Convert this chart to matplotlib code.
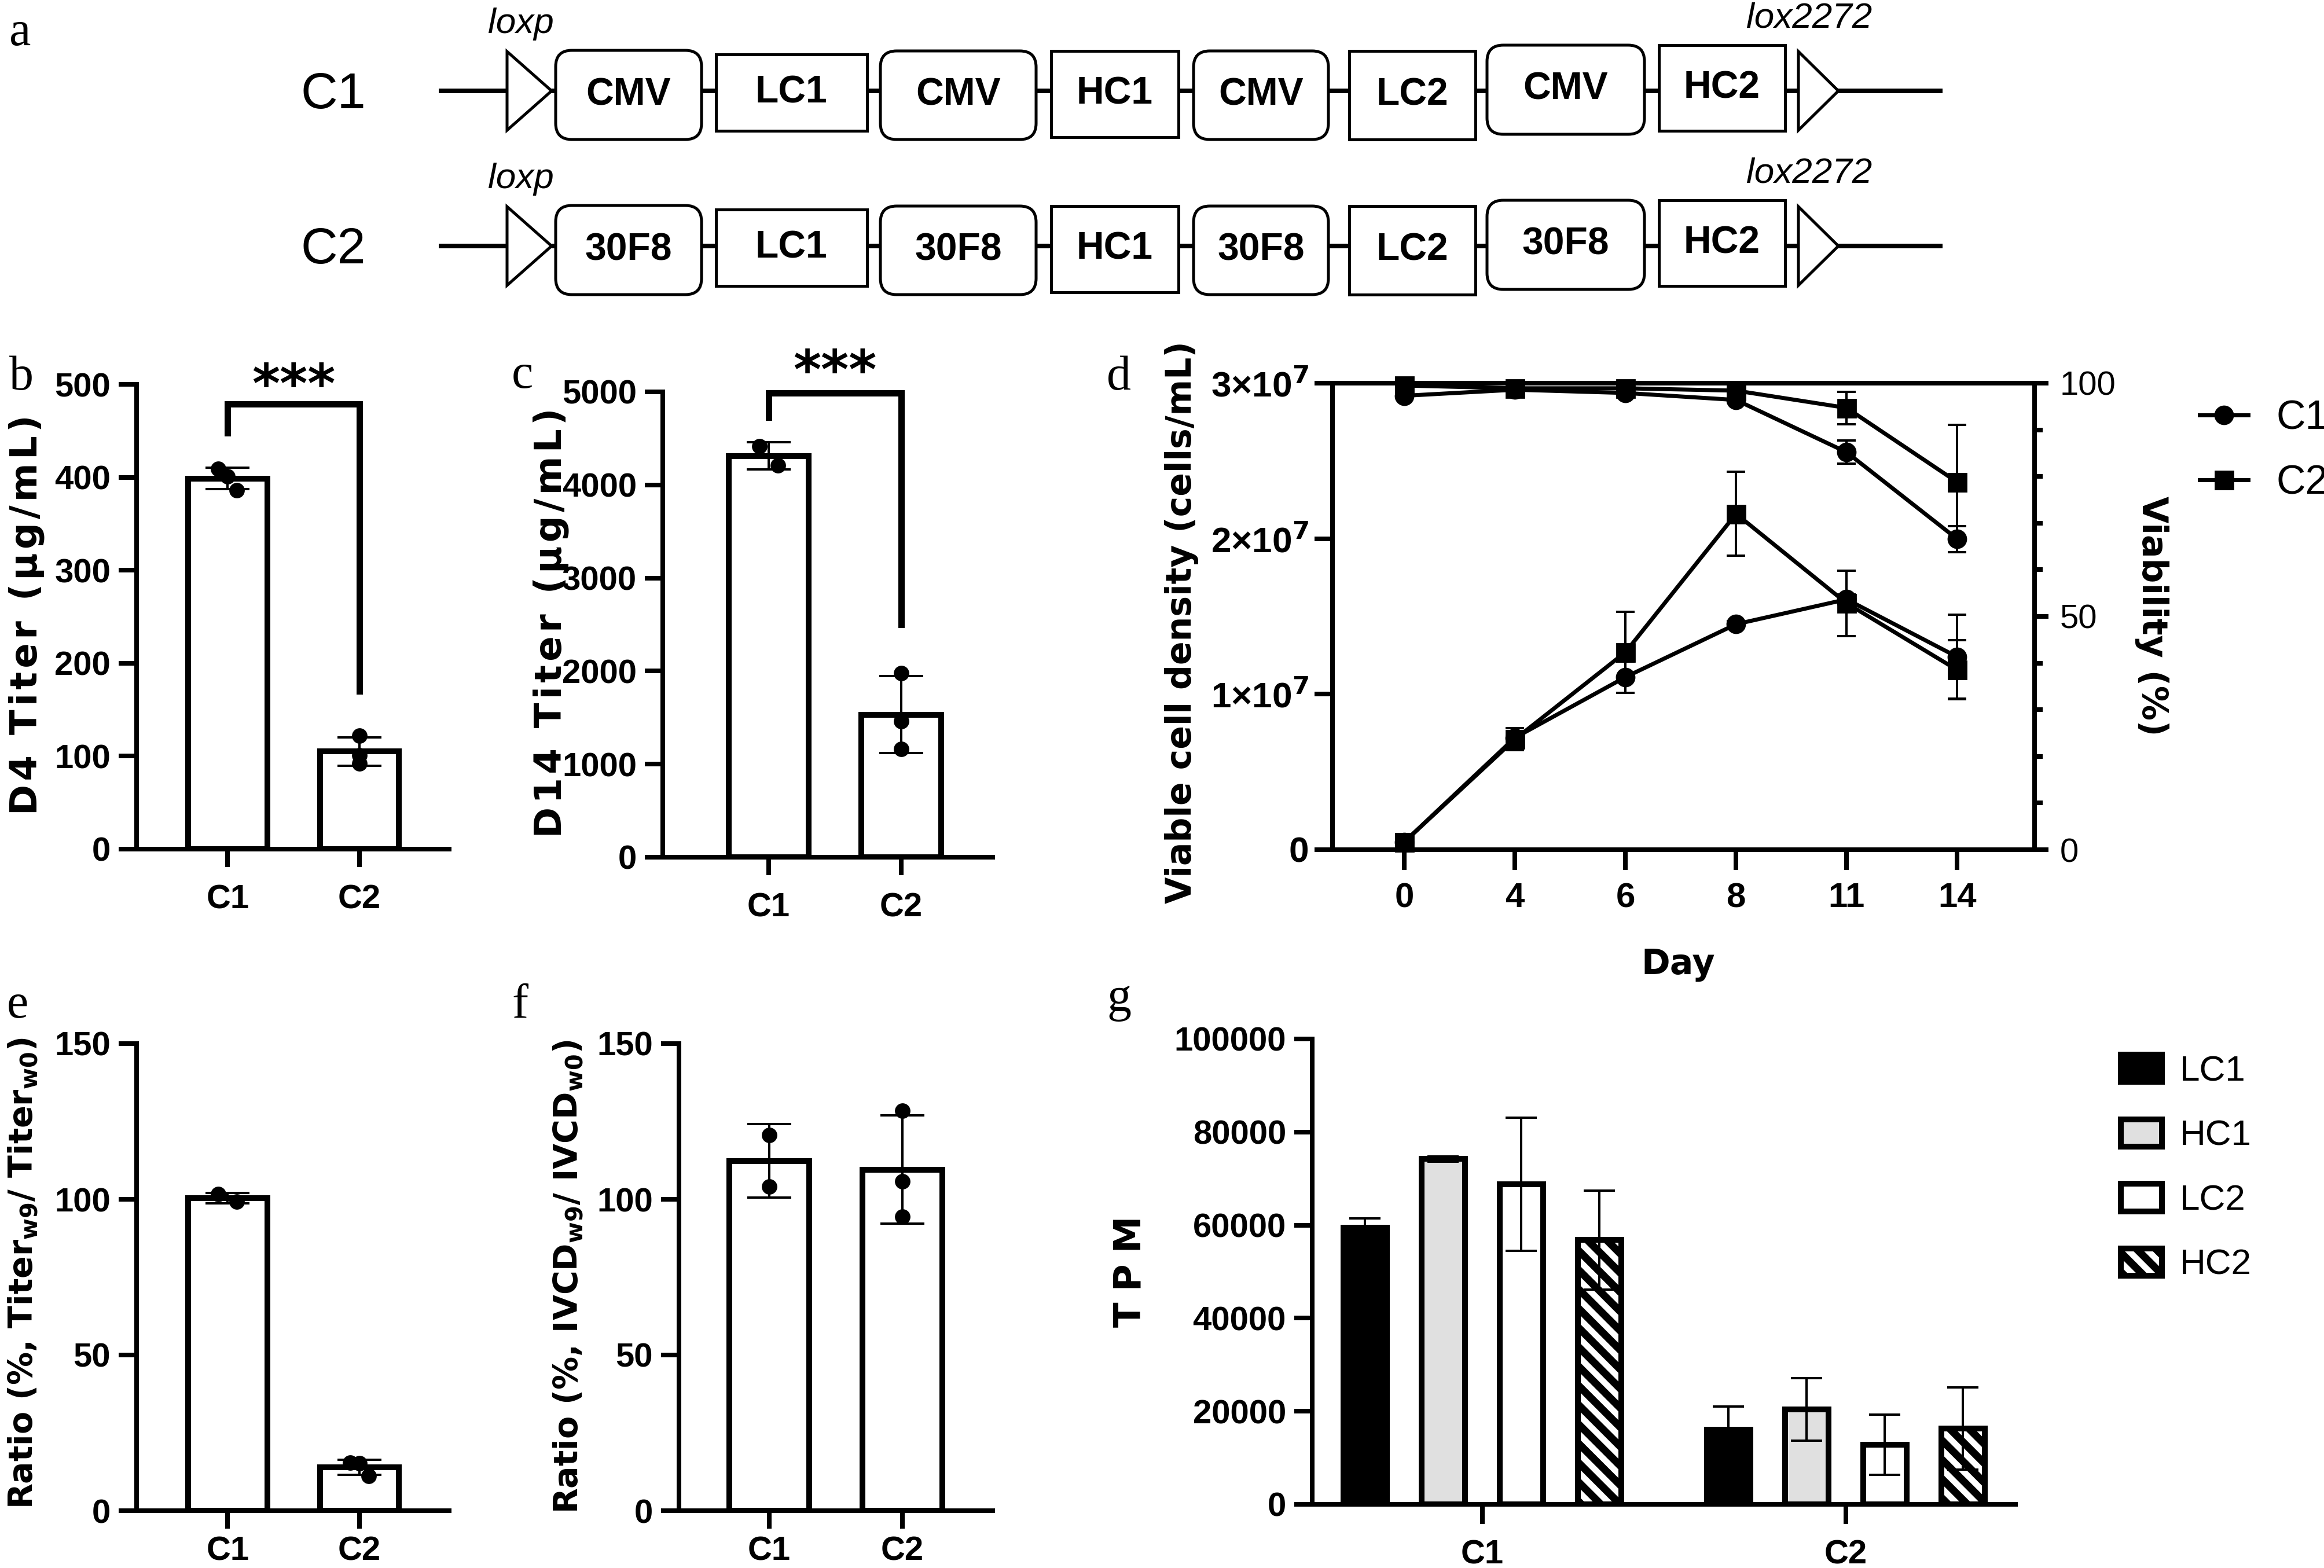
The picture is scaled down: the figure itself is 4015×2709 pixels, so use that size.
import numpy as np
import matplotlib
matplotlib.use("Agg")
import matplotlib.pyplot as plt
from matplotlib.patches import FancyBboxPatch, Rectangle, Polygon, Patch
from matplotlib.lines import Line2D
from matplotlib.ticker import MultipleLocator

W, H, DPI = 4016, 2709, 200


def pt(px):
    # pixel size -> points at this dpi
    return px * 72 / DPI


# ---------------- data ----------------
groups = ["C1", "C2"]

# replicate values per clone
d4_titer = [[409, 401, 386], [122, 101, 92]]
d14_titer = [[4417, 4208], [1975, 1460, 1160]]
ratio_titer = [[101.6, 99.2], [15.5, 15.3, 11.2]]
ratio_ivcd = [[120.7, 104.0], [128.5, 105.8, 94.4]]

days = ["0", "4", "6", "8", "11", "14"]
vcd_c1 = [0.05e7, 0.72e7, 1.11e7, 1.45e7, 1.61e7, 1.24e7]
vcd_c1_sd = [0.01e7, 0.06e7, 0.10e7, 0.02e7, 0.03e7, 0.27e7]
vcd_c2 = [0.05e7, 0.71e7, 1.27e7, 2.16e7, 1.585e7, 1.156e7]
vcd_c2_sd = [0.01e7, 0.07e7, 0.26e7, 0.27e7, 0.21e7, 0.19e7]
viab_c1 = [97.3, 98.6, 97.9, 96.4, 85.2, 66.6]
viab_c1_sd = [0.5, 0.5, 0.5, 0.5, 2.5, 2.8]
viab_c2 = [99.5, 98.9, 98.9, 98.4, 94.7, 78.8]
viab_c2_sd = [0.3, 0.4, 0.4, 0.5, 3.5, 12.3]

genes = ["LC1", "HC1", "LC2", "HC2"]
tpm_c1 = [59400, 74200, 68800, 56800]
tpm_c1_sd = [2000, 600, 14300, 10600]
tpm_c2 = [16000, 20400, 12800, 16300]
tpm_c2_sd = [5000, 6700, 6500, 8800]

promoters_c1 = ["CMV", "CMV", "CMV", "CMV"]
promoters_c2 = ["30F8", "30F8", "30F8", "30F8"]

# significance brackets (y of left leg end, top, right leg end)
sig_d4 = [448, 479, 170]
sig_d14 = [4727, 4990, 2500]

# ---------------- style ----------------
plt.rcParams["font.family"] = ["Liberation Sans", "DejaVu Sans"]
plt.rcParams["font.weight"] = "bold"
plt.rcParams["mathtext.fontset"] = "dejavusans"
plt.rcParams["mathtext.default"] = "bf"
plt.rcParams["hatch.linewidth"] = pt(13)

SPINE = pt(8)
BAR_EDGE = pt(10)
LABEL_FONT = dict(family="DejaVu Sans", weight="bold", size=pt(60))
THIN = "\u2009"
HAIR = "\u200a"

fig = plt.figure(figsize=(W / DPI, H / DPI), dpi=DPI)


def px_axes(x0, y_top, x1, y_bot):
    return fig.add_axes([x0 / W, 1 - y_bot / H, (x1 - x0) / W, (y_bot - y_top) / H])


def ftext(x, y, s, **kw):
    return fig.text(x / W, 1 - y / H, s, **kw)


def style_axes(ax, xpad):
    ax.spines[["top", "right"]].set_visible(False)
    for s in ["left", "bottom"]:
        ax.spines[s].set_linewidth(SPINE)
    ax.tick_params(width=SPINE, length=pt(31), labelsize=pt(58), colors="black")
    ax.tick_params(axis="y", pad=pt(14))
    ax.tick_params(axis="x", pad=pt(xpad))


def spread(vals, ymax):
    n = len(vals)
    if n > 1 and (max(vals) - min(vals)) < 0.05 * ymax:
        return np.linspace(-0.07, 0.07, n)
    return np.zeros(n)


def bar_panel(rect, reps, ymax, ystep, xlim, xpad):
    ax = px_axes(*rect)
    x = np.arange(len(groups))
    means = [np.mean(r) for r in reps]
    sds = [np.std(r, ddof=1) for r in reps]
    ax.bar(x, means, width=0.6, color="white", edgecolor="black",
           linewidth=BAR_EDGE, zorder=2)
    ax.errorbar(x, means, yerr=sds, fmt="none", ecolor="black",
                elinewidth=pt(4), capsize=pt(38), capthick=pt(4), zorder=3)
    for xi, r in zip(x, reps):
        ax.plot(xi + spread(r, ymax), r, "o", color="black", ms=pt(24),
                zorder=4, clip_on=False)
    ax.set_xlim(*xlim)
    ax.set_ylim(0, ymax)
    ax.set_yticks(np.arange(0, ymax + 1, ystep))
    ax.set_xticks(x, groups)
    style_axes(ax, xpad)
    return ax


# ---------------- panel a: construct diagram ----------------
ax_a = fig.add_axes([0, 0, 1, 1], zorder=0)
ax_a.set_xlim(0, W)
ax_a.set_ylim(H, 0)
ax_a.axis("off")

box_x = [(960, 1212), (1237, 1498), (1521, 1790), (1816, 2036),
         (2062, 2295), (2331, 2549), (2569, 2841), (2866, 3084)]
box_dy = [(-70, 84), (-63, 69), (-69, 84), (-69, 80),
          (-69, 84), (-69, 84), (-79, 75), (-79, 69)]
rows = [("C1", 157, promoters_c1), ("C2", 425, promoters_c2)]

for name, ry, proms in rows:
    ax_a.plot([758, 3356], [ry, ry], color="black", lw=pt(8),
              solid_capstyle="butt", zorder=1)
    parts = [p for pair in zip(proms, genes) for p in pair]
    for i, (lab, (x0, x1), (dt, db)) in enumerate(zip(parts, box_x, box_dy)):
        if i % 2 == 0:
            patch = FancyBboxPatch((x0, ry + dt), x1 - x0, db - dt,
                                   boxstyle="round,pad=0,rounding_size=28",
                                   fc="white", ec="black", lw=pt(5), zorder=2)
        else:
            patch = Rectangle((x0, ry + dt), x1 - x0, db - dt,
                              fc="white", ec="black", lw=pt(5), zorder=2)
        ax_a.add_patch(patch)
        ax_a.text((x0 + x1) / 2, ry + (dt + db) / 2, lab, ha="center",
                  va="center", fontsize=pt(66), weight="bold", zorder=3)
    for tx0, tx1 in [(876, 953), (3107, 3176)]:
        ax_a.add_patch(Polygon([(tx0, ry - 68), (tx1, ry), (tx0, ry + 68)],
                               closed=True, fc="white", ec="black",
                               lw=pt(5), zorder=2))
    ax_a.text(576, ry + 8, name, ha="center", va="center",
              fontsize=pt(88), weight="normal")
    ax_a.text(843, ry - 100, "loxp", ha="left", va="baseline",
              fontsize=pt(62), style="italic", weight="normal")
    ax_a.text(3017, ry - 109, "lox2272", ha="left", va="baseline",
              fontsize=pt(62), style="italic", weight="normal")

# ---------------- panels b, c ----------------
star_kw = dict(ha="center", va="center", family="DejaVu Sans", weight="bold",
               fontsize=pt(92), clip_on=False)

ax_b = bar_panel((236, 664, 776, 1467), d4_titer, 500, 100, (-0.69, 1.68), 30)
ax_b.plot([0, 0, 1, 1], [sig_d4[0], sig_d4[1], sig_d4[1], sig_d4[2]],
          color="black", lw=pt(11), clip_on=False, solid_joinstyle="miter")
ax_b.text(0.5, 497, "***", **star_kw)

ax_c = bar_panel((1145, 677, 1715, 1481), d14_titer, 5000, 1000, (-0.80, 1.69), 30)
ax_c.plot([0, 0, 1, 1], [sig_d14[0], sig_d14[1], sig_d14[1], sig_d14[2]],
          color="black", lw=pt(11), clip_on=False, solid_joinstyle="miter")
ax_c.text(0.5, 5200, "***", **star_kw)

# ---------------- panels e, f ----------------
ax_e = bar_panel((236, 1803, 776, 2610), ratio_titer, 150, 50, (-0.69, 1.68), 12)
ax_f = bar_panel((1173, 1803, 1715, 2610), ratio_ivcd, 150, 50, (-0.68, 1.68), 12)

# ---------------- panel d ----------------
ax_d = px_axes(2302, 662, 3515, 1468)
xd = np.arange(len(days))
line_kw = dict(color="black", lw=pt(7), ms=pt(31), elinewidth=pt(4),
               capsize=pt(16), capthick=pt(4), clip_on=False)
ax_d.errorbar(xd, vcd_c1, yerr=vcd_c1_sd, fmt="-o", **line_kw)
ax_d.errorbar(xd, vcd_c2, yerr=vcd_c2_sd, fmt="-s", **line_kw)
ax_d.set_xlim(-0.65, 5.7)
ax_d.set_ylim(0, 3e7)
ax_d.set_xticks(xd, days)
ax_d.set_yticks([0, 1e7, 2e7, 3e7],
                ["0", "1×10$^{7}$", "2×10$^{7}$", "3×10$^{7}$"])
ax_d.spines["right"].set_visible(False)
for s in ["left", "bottom", "top"]:
    ax_d.spines[s].set_linewidth(SPINE)
ax_d.tick_params(width=SPINE, colors="black")
ax_d.tick_params(axis="x", length=pt(35), pad=pt(21), labelsize=pt(60))
ax_d.tick_params(axis="y", length=pt(31), pad=pt(10), labelsize=pt(62))

ax_v = ax_d.twinx()
ax_v.errorbar(xd, viab_c1, yerr=viab_c1_sd, fmt="-o", **line_kw)
ax_v.errorbar(xd, viab_c2, yerr=viab_c2_sd, fmt="-s", **line_kw)
ax_v.set_ylim(0, 100)
ax_v.set_yticks([0, 50, 100])
ax_v.yaxis.set_minor_locator(MultipleLocator(10))
ax_v.spines[["left", "bottom", "top"]].set_visible(False)
ax_v.spines["right"].set_linewidth(SPINE)
ax_v.tick_params(axis="y", which="major", width=SPINE, length=pt(24),
                 pad=pt(20), labelsize=pt(58), colors="black")
ax_v.tick_params(axis="y", which="minor", width=SPINE, length=pt(14))
for lab in ax_v.get_yticklabels():
    lab.set_fontweight("normal")

leg_d = [Line2D([], [], color="black", marker="o", lw=pt(7), ms=pt(31)),
         Line2D([], [], color="black", marker="s", lw=pt(7), ms=pt(31))]
fig.legend(leg_d, groups, loc="upper left",
           bbox_to_anchor=(3800 / W, 1 - 690 / H), frameon=False,
           borderpad=0, borderaxespad=0, numpoints=1,
           prop={"size": pt(70), "weight": "normal"},
           handlelength=1.2, handletextpad=0.7, labelspacing=0.67)

# ---------------- panel g ----------------
ax_g = px_axes(2267, 1795, 3482, 2599)
xg = np.arange(len(groups))
bar_face = ["black", "#e0e0e0", "white", "white"]
bar_hatch = [None, None, None, "\\\\"]
step, bw = 0.215, 0.119
for i, g in enumerate(genes):
    pos = xg + (i - 1.5) * step
    vals = [tpm_c1[i], tpm_c2[i]]
    errs = [tpm_c1_sd[i], tpm_c2_sd[i]]
    ax_g.bar(pos, vals, width=bw, color=bar_face[i], edgecolor="black",
             hatch=bar_hatch[i], linewidth=BAR_EDGE, zorder=2)
    ax_g.errorbar(pos, vals, yerr=errs, fmt="none", ecolor="black",
                  elinewidth=pt(4), capsize=pt(27), capthick=pt(4), zorder=3)
ax_g.set_xlim(-0.468, 1.467)
ax_g.set_ylim(0, 100000)
ax_g.set_yticks(np.arange(0, 100001, 20000))
ax_g.set_xticks(xg, groups)
style_axes(ax_g, 26)
ax_g.tick_params(axis="x", length=pt(34))

leg_g = [Patch(facecolor=c, edgecolor="black", hatch=h, linewidth=BAR_EDGE)
         for c, h in zip(bar_face, bar_hatch)]
fig.legend(leg_g, genes, loc="upper left",
           bbox_to_anchor=(3664 / W, 1 - 1822 / H), frameon=False,
           borderpad=0, borderaxespad=0,
           prop={"size": pt(62), "weight": "normal"},
           handlelength=1.15, handleheight=0.8, handletextpad=0.5,
           labelspacing=0.86)

# ---------------- axis labels ----------------
BC_FONT = dict(LABEL_FONT, size=pt(64))
EF_FONT = dict(LABEL_FONT, size=pt(57))
ftext(46, 1062, HAIR.join("D4 Titer (μg/mL)"), rotation=90, ha="center",
      va="center", **BC_FONT)
ftext(952, 1076, HAIR.join("D14 Titer (μg/mL)"), rotation=90, ha="center",
      va="center", **BC_FONT)
ftext(40, 2199, "Ratio (%, Titer$_{w9}$/ Titer$_{w0}$)", rotation=90,
      ha="center", va="center", **EF_FONT)
ftext(982, 2205, "Ratio (%, IVCD$_{w9}$/ IVCD$_{w0}$)", rotation=90,
      ha="center", va="center", **EF_FONT)
ftext(2042, 1075, "Viable cell density (cells/mL)", rotation=90,
      ha="center", va="center", **LABEL_FONT)
ftext(3718, 1064, "Viability (%)", rotation=270, ha="center", va="center", **LABEL_FONT)
ftext(2899, 1667, "Day", ha="center", va="center", **LABEL_FONT)
ftext(1953, 2197, (THIN + HAIR).join("TPM"), rotation=90, ha="center",
      va="center", **BC_FONT)

# ---------------- panel letters ----------------
letter_kw = dict(family="Liberation Serif", weight="normal", size=pt(84),
                 ha="left", va="baseline")
for s, x, y in [("a", 16, 78), ("b", 16, 673), ("c", 884, 670), ("d", 1912, 673),
                ("e", 12, 1758), ("f", 884, 1758), ("g", 1912, 1747)]:
    ftext(x, y, s, **letter_kw)

fig.savefig("out.png", dpi=DPI, facecolor="white")
